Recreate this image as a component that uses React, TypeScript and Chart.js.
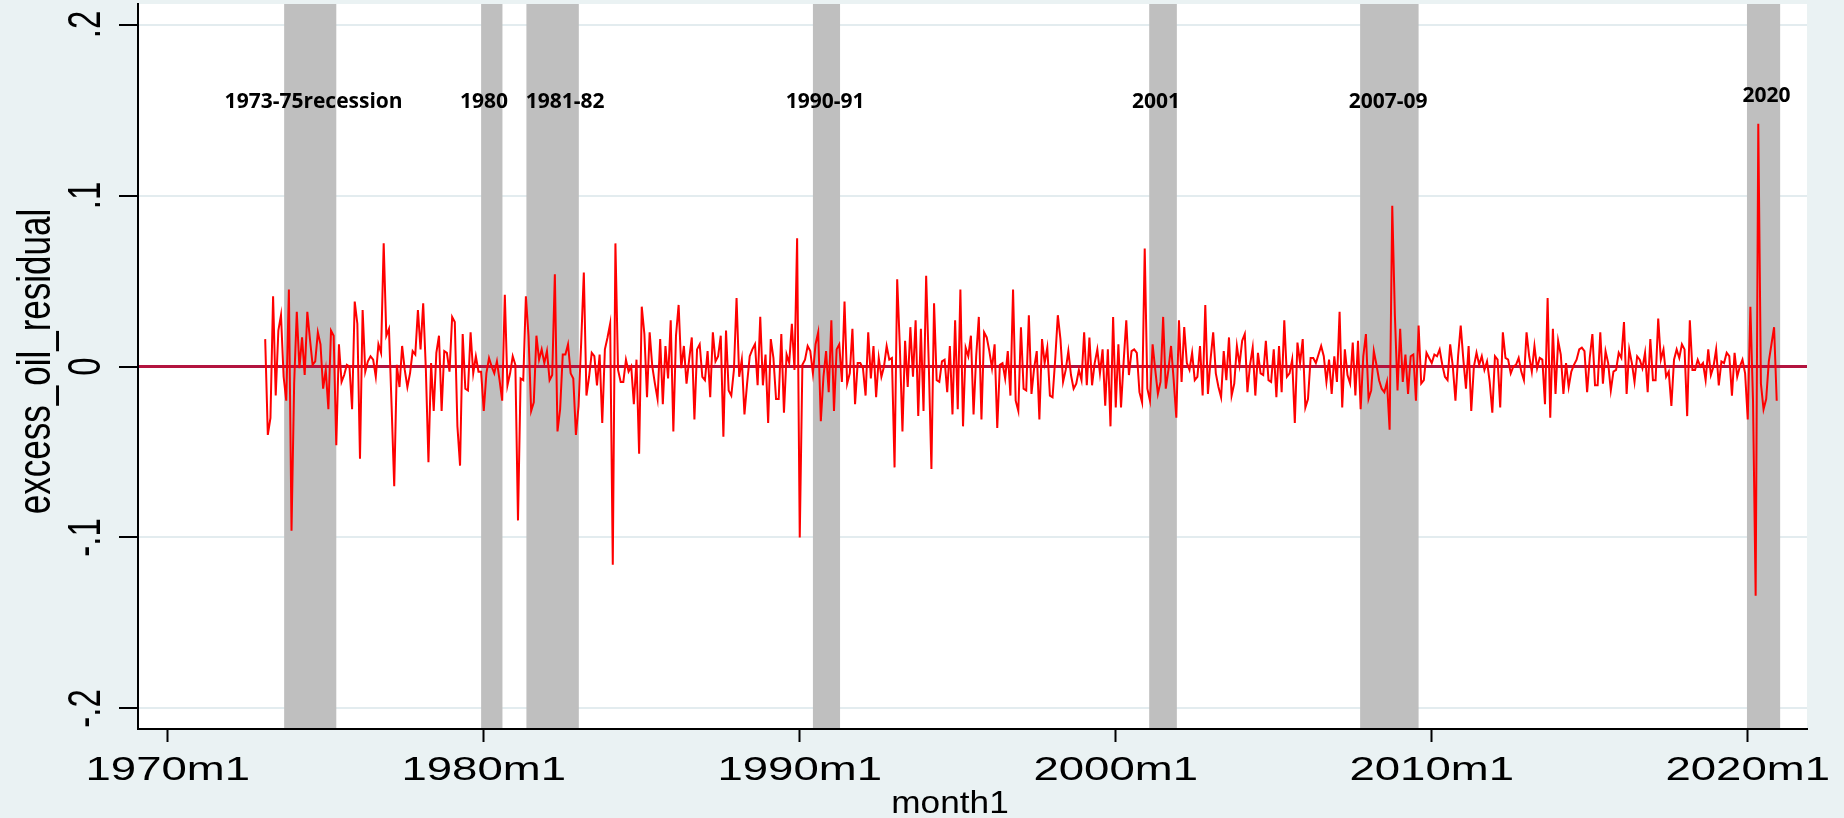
import React, { useEffect, useRef } from 'react';
import { Chart, registerables } from 'chart.js';

Chart.register(...registerables);

// Stata %tm month index (months since 1960m1); first observation 1973m2
const START_MONTH = 157;

const residuals: number[] = [
  0.016, -0.040, -0.030, 0.041, -0.017, 0.021, 0.030, -0.006, -0.020, 0.045,
  -0.096, -0.010, 0.032, -0.001, 0.017, -0.005, 0.032, 0.016, 0.001, 0.003,
  0.020, 0.013, -0.013, -0.002, -0.025, 0.021, 0.018, -0.046, 0.013, -0.009,
  -0.005, 0.001, 0.000, -0.025, 0.038, 0.025, -0.054, 0.033, -0.003, 0.003,
  0.006, 0.004, -0.006, 0.013, 0.008, 0.072, 0.018, 0.022, -0.023, -0.070,
  0.001, -0.012, 0.012, -0.002, -0.012, -0.004, 0.009, 0.007, 0.033, 0.010,
  0.037, -0.001, -0.056, 0.002, -0.026, 0.008, 0.018, -0.026, 0.009, 0.008,
  -0.003, 0.029, 0.026, -0.035, -0.058, 0.019, -0.013, -0.014, 0.020, -0.004,
  0.006, -0.003, -0.003, -0.026, -0.004, 0.005, 0.000, -0.004, 0.003, -0.008,
  -0.020, 0.042, -0.011, -0.004, 0.006, 0.001, -0.090, -0.007, -0.008, 0.041,
  0.018, -0.026, -0.021, 0.018, 0.004, 0.010, 0.002, 0.009, -0.008, -0.005,
  0.054, -0.038, -0.025, 0.007, 0.007, 0.013, -0.004, -0.007, -0.040, -0.023,
  0.014, 0.055, -0.017, -0.006, 0.008, 0.006, -0.011, 0.007, -0.033, 0.010,
  0.017, 0.025, -0.116, 0.072, -0.002, -0.009, -0.009, 0.004, -0.003, 0.000,
  -0.022, 0.004, -0.051, 0.035, 0.019, -0.018, 0.020, 0.000, -0.010, -0.019,
  0.016, -0.022, 0.012, -0.007, 0.027, -0.038, 0.018, 0.036, -0.001, 0.012,
  -0.010, 0.004, 0.017, -0.031, 0.010, 0.013, -0.006, -0.008, 0.009, -0.018,
  0.020, 0.003, 0.006, 0.018, -0.041, 0.021, -0.014, -0.017, -0.002, 0.040,
  -0.006, 0.004, -0.028, -0.010, 0.006, 0.010, 0.013, -0.011, 0.029, -0.011,
  0.007, -0.033, 0.016, 0.005, -0.019, -0.019, 0.019, -0.027, 0.007, 0.002,
  0.025, -0.002, 0.075, -0.100, 0.001, 0.004, 0.012, 0.009, -0.004, 0.013,
  0.020, -0.032, -0.006, 0.009, -0.015, 0.027, -0.026, 0.010, 0.013, -0.009,
  0.038, -0.010, -0.004, 0.022, -0.022, 0.002, 0.002, -0.001, -0.017, 0.020,
  -0.007, 0.012, -0.018, 0.005, -0.006, 0.000, 0.012, 0.004, 0.005, -0.059,
  0.051, 0.012, -0.038, 0.015, -0.012, 0.023, -0.006, 0.027, -0.029, 0.022,
  -0.026, 0.053, 0.001, -0.060, 0.037, -0.008, -0.009, 0.003, 0.004, -0.015,
  0.012, -0.028, 0.027, -0.025, 0.045, -0.035, 0.011, 0.006, 0.018, -0.028,
  0.006, 0.029, -0.031, 0.020, 0.017, 0.009, -0.001, 0.013, -0.036, 0.001,
  0.002, -0.007, 0.009, -0.017, 0.045, -0.020, -0.026, 0.023, -0.013, -0.014,
  0.030, -0.016, -0.001, 0.009, -0.031, 0.016, 0.002, 0.011, -0.017, -0.018,
  0.004, 0.030, 0.016, -0.009, -0.002, 0.009, -0.005, -0.013, -0.010, -0.002,
  -0.008, 0.020, -0.011, 0.017, -0.011, 0.002, 0.010, -0.004, 0.010, -0.023,
  0.010, -0.035, 0.029, -0.024, 0.013, -0.024, 0.003, 0.027, -0.005, 0.009,
  0.010, 0.008, -0.015, -0.021, 0.069, -0.013, -0.020, 0.013, -0.002, -0.016,
  -0.009, 0.029, -0.013, -0.002, 0.012, -0.008, -0.030, 0.027, -0.009, 0.023,
  0.002, -0.002, 0.008, -0.008, -0.006, 0.012, -0.017, 0.036, -0.016, 0.004,
  0.020, -0.004, -0.012, -0.018, 0.009, -0.008, 0.017, -0.017, -0.010, 0.012,
  0.001, 0.015, 0.019, -0.015, 0.001, 0.011, -0.017, 0.008, -0.004, -0.005,
  0.015, -0.008, -0.009, 0.010, -0.018, 0.012, -0.015, 0.027, -0.006, -0.004,
  0.004, -0.033, 0.014, 0.002, 0.016, -0.024, -0.019, 0.005, 0.005, 0.002,
  0.007, 0.012, 0.006, -0.009, 0.004, -0.016, 0.006, -0.009, 0.032, -0.024,
  0.010, -0.005, -0.010, 0.014, -0.017, 0.015, -0.025, 0.006, 0.019, -0.019,
  -0.014, 0.009, 0.001, -0.008, -0.013, -0.015, -0.009, -0.037, 0.094, 0.030,
  -0.014, 0.022, -0.009, 0.007, -0.016, 0.006, 0.007, -0.020, 0.024, -0.010,
  -0.008, 0.008, 0.005, 0.002, 0.007, 0.006, 0.010, 0.001, -0.006, -0.008,
  0.013, 0.000, -0.020, 0.006, 0.024, 0.004, -0.013, 0.012, -0.026, 0.000,
  0.008, 0.001, 0.006, -0.002, 0.003, -0.009, -0.027, 0.006, 0.004, -0.024,
  0.020, 0.005, 0.004, -0.004, 0.000, 0.001, 0.005, -0.003, -0.008, 0.020,
  0.006, -0.003, 0.012, -0.001, 0.005, 0.004, -0.022, 0.040, -0.030, 0.022,
  -0.016, 0.015, 0.007, -0.016, 0.002, -0.012, -0.003, 0.001, 0.004, 0.010,
  0.011, 0.009, -0.015, 0.005, 0.019, -0.011, -0.011, 0.020, -0.010, 0.009,
  0.002, -0.014, -0.003, -0.002, 0.008, 0.005, 0.026, -0.016, 0.010, 0.002,
  -0.009, 0.006, 0.004, -0.001, 0.008, -0.015, 0.016, -0.008, -0.008, 0.028,
  0.004, 0.010, -0.006, -0.003, -0.023, 0.004, 0.010, 0.005, 0.013, 0.010,
  -0.029, 0.027, -0.002, -0.002, 0.004, 0.000, 0.002, -0.008, 0.010, -0.005,
  0.000, 0.010, -0.011, 0.003, 0.002, 0.008, 0.006, -0.017, 0.008, -0.006,
  0.000, 0.004, -0.004, -0.031, 0.035, -0.020, -0.134, 0.142, -0.010, -0.025,
  -0.019, 0.003, 0.013, 0.023, -0.020,
];

const months: number[] = residuals.map((_, i) => START_MONTH + i);

const xTickValues = [120, 240, 360, 480, 600, 720];
const xTickLabels = ['1970m1', '1980m1', '1990m1', '2000m1', '2010m1', '2020m1'];
const yTickValues = [-0.2, -0.1, 0, 0.1, 0.2];
const yTickLabels = ['-.2', '-.1', '0', '.1', '.2'];

const recessionStart = [164.2, 239.0, 256.2, 365.0, 492.7, 572.8, 719.7];
const recessionEnd = [184.0, 247.1, 276.1, 375.3, 503.2, 595.0, 732.3];
const recessionLabels = ['1973-75recession', '1980', '1981-82', '1990-91', '2001', '2007-09', '2020'];
const recessionLabelX = [175.4, 240.1, 270.9, 369.6, 495.3, 583.4, 727.1];
const recessionLabelY = [0.151, 0.151, 0.151, 0.151, 0.151, 0.151, 0.1545];

const yTitle = 'excess_oil_residual';
const xTitle = 'month1';

const decorPlugin = {
  id: 'stataDecor',
  beforeDraw(chart: any) {
    const { ctx, chartArea } = chart;
    ctx.save();
    ctx.fillStyle = '#eaf2f3';
    ctx.fillRect(0, 0, chart.width, chart.height);
    ctx.fillStyle = '#ffffff';
    ctx.fillRect(chartArea.left, chartArea.top, chartArea.right - chartArea.left, chartArea.bottom - chartArea.top);
    ctx.restore();
  },
  beforeDatasetsDraw(chart: any) {
    const { ctx, chartArea, scales } = chart;
    const xs = scales.x;
    const ys = scales.y;
    ctx.save();
    ctx.fillStyle = '#bfbfbf';
    recessionStart.forEach((s, i) => {
      const x1 = xs.getPixelForValue(s);
      const x2 = xs.getPixelForValue(recessionEnd[i]);
      ctx.fillRect(x1, chartArea.top, x2 - x1, chartArea.bottom - chartArea.top);
    });
    const y0 = ys.getPixelForValue(0);
    ctx.strokeStyle = '#b3143f';
    ctx.lineWidth = 3;
    ctx.beginPath();
    ctx.moveTo(chartArea.left, y0);
    ctx.lineTo(chartArea.right, y0);
    ctx.stroke();
    ctx.restore();
  },
  afterDraw(chart: any) {
    const { ctx, scales } = chart;
    const xs = scales.x;
    const ys = scales.y;
    ctx.save();
    ctx.fillStyle = '#000000';
    ctx.textAlign = 'center';
    ctx.textBaseline = 'alphabetic';

    // y tick labels (rotated)
    ctx.font = '33px "Liberation Sans", Arial, sans-serif';
    yTickValues.forEach((v, i) => {
      const y = ys.getPixelForValue(v);
      ctx.save();
      ctx.translate(100, y);
      ctx.scale(1.4, 1);
      ctx.rotate(-Math.PI / 2);
      ctx.fillText(yTickLabels[i], 0, 0);
      ctx.restore();
    });

    // x tick labels
    xTickValues.forEach((v, i) => {
      const x = xs.getPixelForValue(v);
      ctx.save();
      ctx.translate(x, 780);
      ctx.scale(1.38, 1);
      ctx.fillText(xTickLabels[i], 0, 0);
      ctx.restore();
    });

    // y title
    ctx.save();
    ctx.font = '35px "Liberation Sans", Arial, sans-serif';
    ctx.translate(50, 361.5);
    ctx.scale(1.3, 1);
    ctx.rotate(-Math.PI / 2);
    ctx.fillText(yTitle, 0, 0);
    ctx.restore();

    // x title
    ctx.save();
    ctx.font = '32px "Liberation Sans", Arial, sans-serif';
    ctx.translate(950, 813);
    ctx.scale(1.1, 1);
    ctx.fillText(xTitle, 0, 0);
    ctx.restore();

    // recession labels
    ctx.font = 'bold 21px "Open Sans", "Noto Sans", sans-serif';
    recessionLabels.forEach((t, i) => {
      ctx.fillText(t, xs.getPixelForValue(recessionLabelX[i]), ys.getPixelForValue(recessionLabelY[i]));
    });
    ctx.restore();
  },
};

export default function App() {
  const ref = useRef<HTMLCanvasElement>(null);

  useEffect(() => {
    if (!ref.current) return;
    const points = residuals.map((v, i) => ({ x: months[i], y: v }));
    const chart = new Chart(ref.current, {
      type: 'line',
      data: {
        datasets: [
          {
            data: points,
            borderColor: '#ff0000',
            borderWidth: 2,
            pointRadius: 0,
            tension: 0,
            fill: false,
          },
        ],
      },
      options: {
        animation: false,
        responsive: false,
        maintainAspectRatio: false,
        layout: { padding: { left: 0, top: 4, right: 37, bottom: 0 } },
        plugins: { legend: { display: false }, tooltip: { enabled: false }, title: { display: false } },
        scales: {
          x: {
            type: 'linear',
            min: 108.7,
            max: 742.5,
            afterBuildTicks: (s: any) => {
              s.ticks = xTickValues.map((v) => ({ value: v }));
            },
            afterFit: (s: any) => {
              s.height = 89;
            },
            ticks: { display: false },
            grid: { drawOnChartArea: false, drawTicks: true, tickLength: 13, tickColor: '#000000', tickWidth: 2 },
            border: { display: true, color: '#000000', width: 2, z: 1 },
          },
          y: {
            type: 'linear',
            min: -0.212,
            max: 0.212,
            afterBuildTicks: (s: any) => {
              s.ticks = yTickValues.map((v) => ({ value: v }));
            },
            afterFit: (s: any) => {
              s.width = 138;
            },
            ticks: { display: false },
            grid: { color: '#e3ecef', lineWidth: 2, drawTicks: true, tickLength: 19, tickColor: '#000000', tickWidth: 2 },
            border: { display: true, color: '#000000', width: 2, z: 1 },
          },
        },
      },
      plugins: [decorPlugin],
    } as any);
    return () => chart.destroy();
  }, []);

  return (
    <div style={{ position: 'fixed', left: 0, top: 0, width: 1844, height: 818 }}>
      <canvas ref={ref} width={1844} height={818} style={{ display: 'block', width: 1844, height: 818 }} />
    </div>
  );
}
